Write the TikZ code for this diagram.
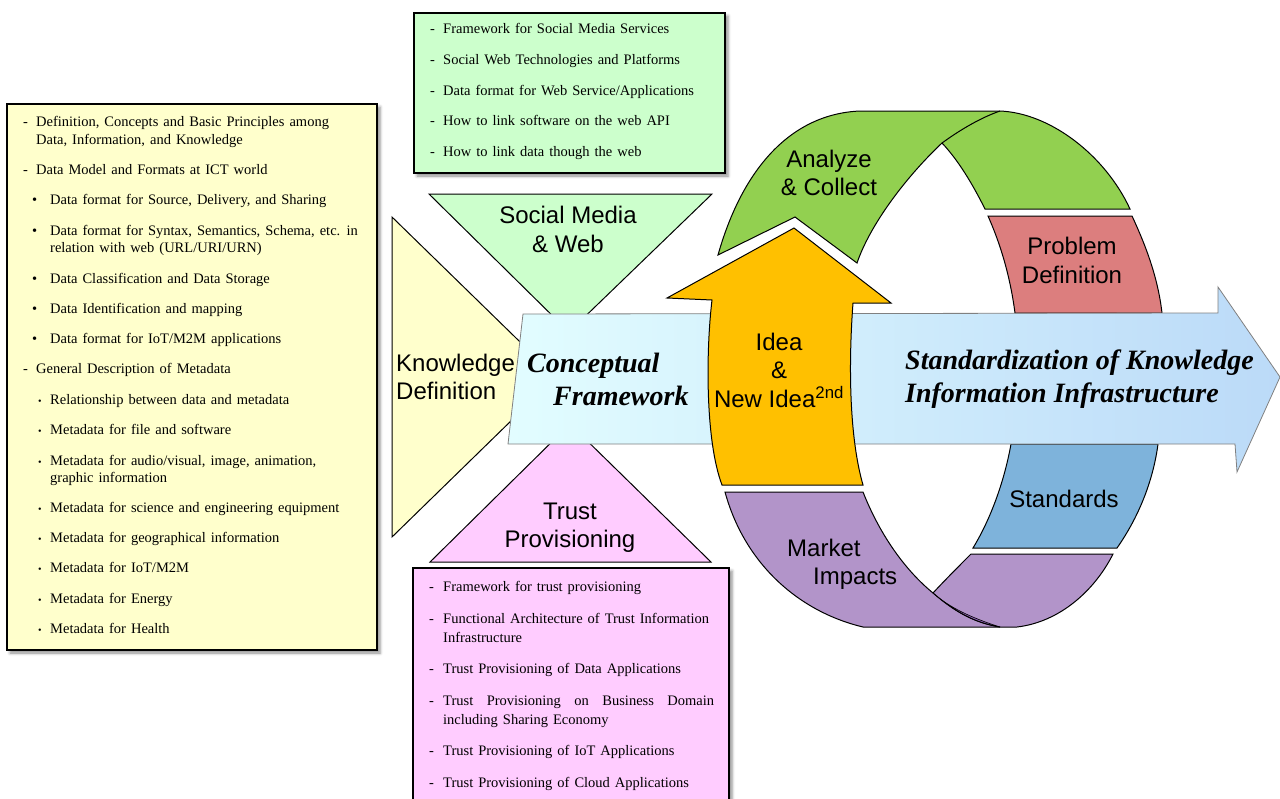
\documentclass[tikz,border=0pt]{standalone}
\usepackage{fontspec}
\setmainfont{Liberation Serif}
\setsansfont{Liberation Sans}
\usetikzlibrary{shadows.blur}

\definecolor{paleyellow}{HTML}{FFFFCC}
\definecolor{palegreen}{HTML}{CCFFCC}
\definecolor{palepink}{HTML}{FFCCFF}
\definecolor{ideaorange}{HTML}{FFC000}
\definecolor{cyclegreen}{HTML}{92D050}
\definecolor{cyclered}{HTML}{DC7E7E}
\definecolor{cycleblue}{HTML}{7EB3DB}
\definecolor{cyclepurple}{HTML}{B294C9}
\definecolor{foldpurple}{HTML}{8B5FB0}
\definecolor{shaftleft}{HTML}{E2FDFF}
\definecolor{shaftright}{HTML}{BBDAF8}

% serif text of the panels, with slightly wider word spaces
\newcommand\paneltext{\fontsize{14.5}{17.5}\selectfont\spaceskip 5pt plus 1pt minus 0.5pt\relax}

\begin{document}
\begin{tikzpicture}[x=1pt,y=-1pt,
  panel/.style={draw=black, line width=1.4pt,
    blur shadow={shadow xshift=3pt, shadow yshift=-3pt, shadow blur radius=3pt, shadow opacity=45}},
  tri/.style={draw=black, line width=1pt},
  band/.style={draw=black, line width=1pt},
  lbl/.style={font=\sffamily\fontsize{24}{28.5}\selectfont, align=center, inner sep=0pt},
  big/.style={font=\bfseries\itshape\fontsize{28}{33}\selectfont, align=left, inner sep=0pt},
  itm/.style={font=\paneltext, anchor=base west, inner sep=0pt},
  smallbullet/.style={font=\fontsize{10}{10}\selectfont, anchor=base west, inner sep=0pt}]

\useasboundingbox (0,0) rectangle (1280,798);
\clip (0,0) rectangle (1280,798);

% ---------- text panels ----------
\path[panel, fill=paleyellow] (7,104) rectangle (377,650);
\path[panel, fill=palegreen] (414,13) rectangle (725,173);
\path[panel, fill=palepink] (413,568) rectangle (729,812);

% knowledge panel: dashed headings
\foreach \n/\y/\t in {1/126.5/{Definition, Concepts and Basic Principles among},
                      2/174.5/{Data Model and Formats at ICT world},
                      3/373.5/{General Description of Metadata}}{
  \node[itm] (kdash\n) at (23,\y) {-};
  \node[itm] (khead\n) at (36,\y) {\t};
}
\node[itm] (kcont1) at (36,144.5) {Data, Information, and Knowledge};

% knowledge panel: data items
\foreach \n/\y/\t in {1/204.5/{Data format for Source, Delivery, and Sharing},
                      2/235.5/{Data format for Syntax, Semantics, Schema, etc. in},
                      3/283.5/{Data Classification and Data Storage},
                      4/313.5/{Data Identification and mapping},
                      5/343.5/{Data format for IoT/M2M applications}}{
  \node[itm] (kbul\n) at (32,\y) {\textbullet};
  \node[itm] (kdat\n) at (50,\y) {\t};
}
\node[itm] (kcont2) at (50,252.5) {relation with web (URL/URI/URN)};

% knowledge panel: metadata items
\foreach \n/\y/\t in {1/404.5/{Relationship between data and metadata},
                      2/434.5/{Metadata for file and software},
                      3/465.5/{Metadata for audio/visual, image, animation,},
                      4/512.5/{Metadata for science and engineering equipment},
                      5/542.5/{Metadata for geographical information},
                      6/572.5/{Metadata for IoT/M2M},
                      7/603.5/{Metadata for Energy},
                      8/633.5/{Metadata for Health}}{
  \node[smallbullet] (mbul\n) at (38,\y) {\textbullet};
  \node[itm] (mdat\n) at (50,\y) {\t};
}
\node[itm] (kcont3) at (50,482.5) {graphic information};

% social media panel
\foreach \n/\y/\t in {1/33.5/{Framework for Social Media Services},
                      2/64.5/{Social Web Technologies and Platforms},
                      3/95.5/{Data format for Web Service/Applications},
                      4/125.5/{How to link software on the web API},
                      5/156.5/{How to link data though the web}}{
  \node[itm] (sdash\n) at (430,\y) {-};
  \node[itm] (stxt\n) at (443,\y) {\t};
}

% trust panel
\foreach \n/\y/\t in {1/591.5/{Framework for trust provisioning},
                      2/623.5/{Functional Architecture of Trust Information},
                      3/673.5/{Trust Provisioning of Data Applications},
                      4/705.5/{\makebox[271pt][s]{Trust Provisioning on Business Domain}},
                      5/755.5/{Trust Provisioning of IoT Applications},
                      6/787.5/{Trust Provisioning of Cloud Applications}}{
  \node[itm] (tdash\n) at (429,\y) {-};
  \node[itm] (ttxt\n) at (443,\y) {\t};
}
\node[itm] (tcont1) at (443,642.5) {Infrastructure};
\node[itm] (tcont2) at (443,724.5) {including Sharing Economy};

% ---------- triangles around the framework ----------
\path[tri, fill=palegreen] (429,194) -- (712,194) -- (569,332) -- cycle;
\path[tri, fill=paleyellow] (392,217) -- (556,377) -- (392,537) -- cycle;
\path[tri, fill=palepink] (430,562) -- (711,562) -- (570,424) -- cycle;

% ---------- cycle bands touching the main arrow ----------
\path[band, fill=cyclered] (988,216) -- (1132,216)
  .. controls (1146,246) and (1158,278) .. (1162,313) -- (1015,313)
  .. controls (1010,275) and (1000,243) .. cycle;
\path[band, fill=cycleblue] (1011,444) -- (1158,444)
  .. controls (1153,482) and (1138,518) .. (1117,548) -- (973,548)
  .. controls (990,520) and (1004,483) .. cycle;

% ---------- main arrow ----------
\path[draw=gray, line width=0.8pt, left color=shaftleft, right color=shaftright]
  (523,314) -- (1218,313) -- (1218,287) -- (1280,377) -- (1237,472)
  -- (1235,444) -- (508,444) -- cycle;

% ---------- upper green band ----------
\path[band, fill=cyclegreen] (718,255)
  .. controls (742,170) and (790,114) .. (860,111) -- (1000,111)
  .. controls (1050,113) and (1105,155) .. (1130,209) -- (985,209)
  .. controls (972,183) and (958,160) .. (942,143)
  .. controls (905,178) and (870,225) .. (857,263) -- (795,217) -- cycle;
\draw[line width=1pt] (942,143) .. controls (960,130) and (980,118) .. (1000,111);

% ---------- lower purple band ----------
\path[band, fill=cyclepurple] (725,492) -- (863,492)
  .. controls (880,535) and (905,570) .. (933,593)
  .. controls (945,580) and (960,565) .. (971,554) -- (1113,554)
  .. controls (1095,590) and (1060,622) .. (1017,627) -- (863,627)
  .. controls (800,612) and (745,565) .. cycle;
\path[fill=foldpurple, draw=black, line width=0.6pt] (933,593)
  .. controls (955,612) and (975,623) .. (1000,627)
  .. controls (972,618) and (950,608) .. cycle;
\draw[line width=1pt] (933,593) .. controls (955,612) and (975,623) .. (1000,627);

% ---------- idea arrow ----------
\path[band, fill=ideaorange] (712,300) -- (667,298) -- (794,228) -- (891,303)
  -- (853,303) .. controls (848,370) and (850,440) .. (863,485) -- (722,485)
  .. controls (705,440) and (706,350) .. cycle;

% ---------- labels ----------
\node[lbl] (social) at (568,229.5) {Social Media\\\& Web};
\node[lbl, anchor=west, align=left] (knowledge) at (396,377) {Knowledge\\Definition};
\node[lbl] (trust) at (570,527.5) {Trust\\Provisioning};
\node[big, anchor=west] (concept) at (527,379) {Conceptual\\\hspace*{26pt}Framework};
\node[big, anchor=west] (standard) at (905,379) {Standardization of Knowledge\\Information Infrastructure};
\node[lbl] (idea) at (779,370) {Idea\\\&\\New Idea\textsuperscript{2nd}};
\node[lbl] (analyze) at (829,173) {Analyze\\\& Collect};
\node[lbl] (problem) at (1072,260.5) {Problem\\Definition};
\node[lbl] (standards) at (1064,499) {Standards};
\node[lbl, anchor=west, align=left] (market) at (787,564.5) {Market\\\hspace*{26pt}Impacts};

\end{tikzpicture}
\end{document}
